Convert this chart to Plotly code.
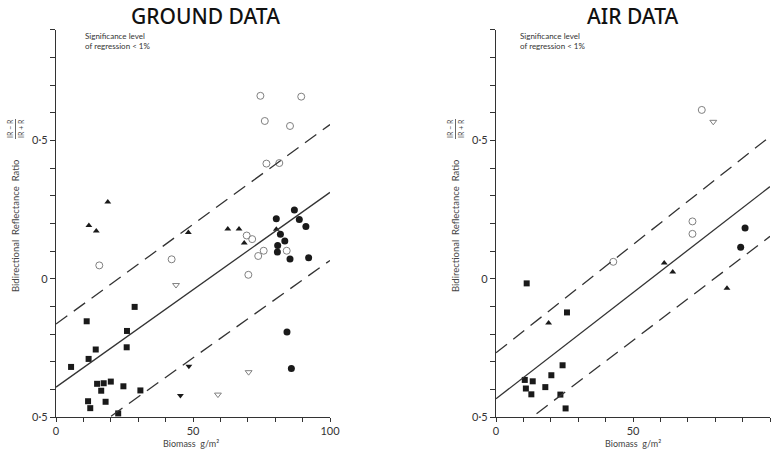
import plotly.graph_objects as go

W, H = 775, 457

# ---------------- GROUND DATA ----------------
g_sq_x = [5.5, 11.2, 11.9, 14.5, 28.7, 25.9, 25.8, 15.0, 17.4, 20.0, 16.5, 24.6, 30.8, 11.7, 18.1, 12.5, 22.7]
g_sq_y = [-0.319, -0.154, -0.290, -0.256, -0.102, -0.189, -0.248, -0.380, -0.378, -0.372, -0.405, -0.389, -0.404, -0.443, -0.445, -0.468, -0.487]

g_tri_x = [12.0, 14.7, 18.9, 48.3, 62.7, 66.8, 68.7, 80.4]
g_tri_y = [0.192, 0.172, 0.277, 0.167, 0.180, 0.180, 0.129, 0.179]

g_oc_x = [15.8, 42.2, 69.6, 71.6, 73.8, 75.8, 70.2, 84.2, 74.6, 89.5, 76.2, 85.4, 76.8, 81.5]
g_oc_y = [0.048, 0.070, 0.156, 0.143, 0.082, 0.101, 0.014, 0.101, 0.661, 0.658, 0.570, 0.552, 0.416, 0.418]

g_fc_x = [80.4, 87.0, 88.8, 91.2, 81.9, 83.5, 80.9, 80.8, 85.4, 92.2, 84.3, 85.9]
g_fc_y = [0.217, 0.248, 0.214, 0.189, 0.161, 0.136, 0.120, 0.096, 0.071, 0.076, -0.193, -0.325]

g_oit_x = [43.8, 70.3, 59.1]
g_oit_y = [-0.023, -0.338, -0.419]

g_fit_x = [48.5, 45.4]
g_fit_y = [-0.317, -0.422]

g_reg_x, g_reg_y = [0, 100], [-0.392, 0.312]
g_up_x, g_up_y = [0, 100], [-0.164, 0.557]
g_lo_x, g_lo_y = [20.1, 100], [-0.497, 0.066]

# ---------------- AIR DATA ----------------
a_sq_x = [11.2, 25.9, 24.3, 20.2, 10.5, 13.4, 10.9, 18.0, 12.9, 23.5, 25.4]
a_sq_y = [-0.017, -0.122, -0.313, -0.349, -0.366, -0.371, -0.397, -0.392, -0.418, -0.419, -0.469]

a_tri_x = [19.2, 61.4, 64.5, 84.3]
a_tri_y = [-0.160, 0.057, 0.024, -0.035]

a_oc_x = [42.8, 71.7, 71.7, 75.1]
a_oc_y = [0.061, 0.207, 0.162, 0.610]

a_oit_x = [79.3]
a_oit_y = [0.567]

a_fc_x = [90.9, 89.3]
a_fc_y = [0.183, 0.114]

a_reg_x, a_reg_y = [0, 100], [-0.434, 0.333]
a_up_x, a_up_y = [0, 100], [-0.268, 0.514]
a_lo_x, a_lo_y = [14.8, 100], [-0.488, 0.153]

x_ticks = [0, 50, 100]
x_ticktext = ["0", "50", "100"]
y_ticks = [-0.5, 0, 0.5]
y_ticktext = ["0·5", "0", "0·5"]

INK = "#1a1a1a"
GREY = "#808080"
FONT = "Lato"

fig = go.Figure()


def add_panel(xa, ya, sets, lines):
    for (x, y, sym, size, col, lw) in sets:
        fig.add_trace(go.Scatter(
            x=x, y=y, mode="markers", xaxis=xa, yaxis=ya, showlegend=False,
            marker=dict(symbol=sym, size=size, color=col, line=dict(color=col, width=lw)),
        ))
    for (x, y, dash) in lines:
        fig.add_trace(go.Scatter(
            x=x, y=y, mode="lines", xaxis=xa, yaxis=ya, showlegend=False,
            line=dict(color="#333333", width=1.3, dash=dash),
        ))


add_panel("x", "y", [
    (g_sq_x, g_sq_y, "square", 6, INK, 0),
    (g_tri_x, g_tri_y, "triangle-up", 6, INK, 0),
    (g_oc_x, g_oc_y, "circle-open", 7, GREY, 1),
    (g_fc_x, g_fc_y, "circle", 7, INK, 0),
    (g_oit_x, g_oit_y, "triangle-down-open", 6, GREY, 1),
    (g_fit_x, g_fit_y, "triangle-down", 6, INK, 0),
], [
    (g_reg_x, g_reg_y, "solid"),
    (g_up_x, g_up_y, "14px,8px"),
    (g_lo_x, g_lo_y, "14px,8px"),
])

add_panel("x2", "y2", [
    (a_sq_x, a_sq_y, "square", 6, INK, 0),
    (a_tri_x, a_tri_y, "triangle-up", 6, INK, 0),
    (a_oc_x, a_oc_y, "circle-open", 7, GREY, 1),
    (a_oit_x, a_oit_y, "triangle-down-open", 6, GREY, 1),
    (a_fc_x, a_fc_y, "circle", 7, INK, 0),
], [
    (a_reg_x, a_reg_y, "solid"),
    (a_up_x, a_up_y, "14px,8px"),
    (a_lo_x, a_lo_y, "14px,8px"),
])

ydom = [40 / H, 1 - 29.7 / H]


def xaxis(dom, anchor):
    return dict(domain=dom, anchor=anchor, range=[0, 100], showline=True, linecolor="#333",
                linewidth=1.2, showgrid=False, zeroline=False, ticks="outside", ticklen=4,
                tickcolor="#333", tickvals=x_ticks, ticktext=x_ticktext,
                tickfont=dict(family=FONT, size=11, color="#333"),
                minor=dict(dtick=10, ticks="outside", ticklen=4, tickcolor="#333"),
                automargin=False, fixedrange=True)


def yaxis(anchor):
    return dict(domain=ydom, anchor=anchor, range=[-0.5, 0.9], showline=True, linecolor="#333",
                linewidth=1.2, showgrid=False, zeroline=False, ticks="outside", ticklen=5,
                tickcolor="#333", tickvals=y_ticks, ticktext=y_ticktext,
                tickfont=dict(family=FONT, size=11, color="#333"),
                minor=dict(dtick=0.1, ticks="outside", ticklen=5, tickcolor="#333"),
                automargin=False, fixedrange=True)


fig.update_layout(
    width=W, height=H, margin=dict(l=0, r=0, t=0, b=0),
    paper_bgcolor="white", plot_bgcolor="white",
    xaxis=xaxis([56 / W, 330 / W], "y"),
    yaxis=yaxis("x"),
    xaxis2=xaxis([496 / W, 770 / W], "y2"),
    yaxis2=yaxis("x2"),
)


def px(x):
    return x / W


def py(y):
    return 1 - y / H


P = dict(xref="paper", yref="paper", showarrow=False)
ann = []
for cx, ttl in [(205, "GROUND DATA"), (632, "AIR DATA")]:
    ann.append(dict(P, x=px(cx), y=py(16), text=ttl, xanchor="center", yanchor="middle",
                    font=dict(family="Noto Sans", size=21, color="#111", weight=500)))
for lx in [83, 518]:
    ann.append(dict(P, x=px(lx), y=py(29), text="Significance level<br>of regression < 1%",
                    xanchor="left", yanchor="top", align="left",
                    font=dict(family=FONT, size=8, color="#333")))
for cx, cy in [(191, 443), (633, 443)]:
    ann.append(dict(P, x=px(cx), y=py(cy), text="Biomass  g/m²", xanchor="center",
                    yanchor="middle", font=dict(family=FONT, size=9, color="#444")))
shapes = []
for tx in [15, 455]:
    ann.append(dict(P, x=px(tx), y=py(226), text="Bidirectional  Reflectance  Ratio",
                    textangle=-90, xanchor="center", yanchor="middle",
                    font=dict(family=FONT, size=9.5, color="#444")))
    ann.append(dict(P, x=px(tx - 5), y=py(129), text="IR − R", textangle=-90,
                    xanchor="center", yanchor="middle", font=dict(family=FONT, size=7, color="#444")))
    ann.append(dict(P, x=px(tx + 6), y=py(129), text="IR + R", textangle=-90,
                    xanchor="center", yanchor="middle", font=dict(family=FONT, size=7, color="#444")))
    shapes.append(dict(type="line", xref="paper", yref="paper", x0=px(tx + 0.5), x1=px(tx + 0.5),
                       y0=py(119), y1=py(139), line=dict(color="#444", width=0.8)))

fig.update_layout(annotations=ann, shapes=shapes)

fig.write_html("out.html")
